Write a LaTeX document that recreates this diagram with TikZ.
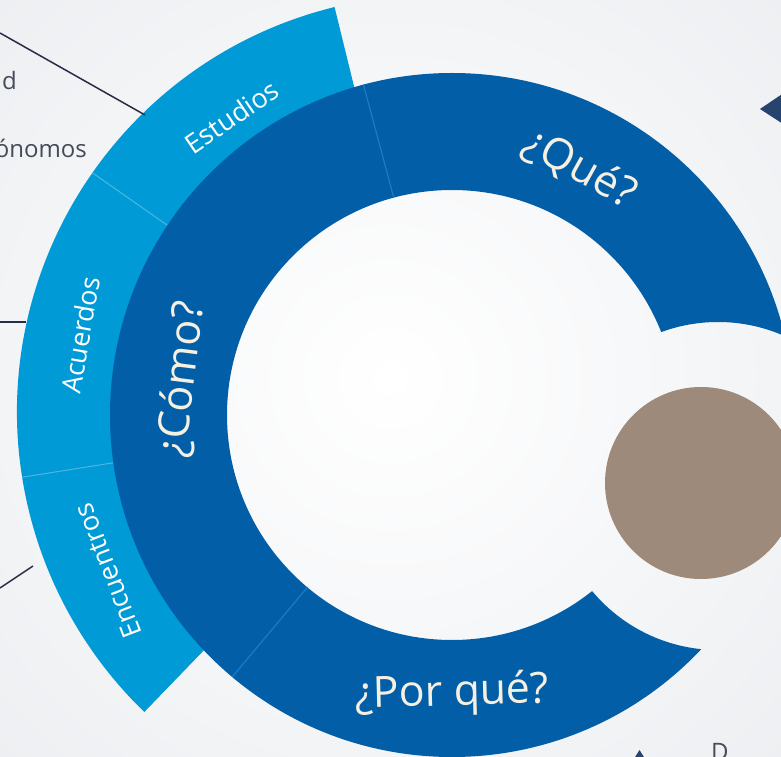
\documentclass[tikz,border=0pt]{standalone}
\usepackage{fontspec}
\setmainfont{Open Sans}
\definecolor{darkblue}{RGB}{2,94,167}
\definecolor{lightblue}{RGB}{0,154,214}
\definecolor{divlight}{RGB}{80,180,226}
\definecolor{divdark}{RGB}{28,122,198}
\definecolor{dotbrown}{RGB}{158,138,122}
\definecolor{cream}{RGB}{245,240,225}
\definecolor{navyline}{RGB}{40,45,70}
\definecolor{graytext}{RGB}{70,75,90}
\definecolor{trinavy}{RGB}{38,68,110}
\definecolor{bgouter}{RGB}{236,238,241}
\begin{document}
\begin{tikzpicture}[x=1pt,y=1pt,
  bigq/.style={text=cream, font=\fontsize{43}{50}\selectfont, inner sep=0pt},
  seglabel/.style={text=white, font=\fontsize{27}{32}\selectfont, inner sep=0pt},
  sidetext/.style={text=graytext, font=\fontsize{24}{28}\selectfont, inner sep=0pt},
  link/.style={draw=navyline, line width=1.5pt},
  divl/.style={draw=divlight, line width=1pt},
  divd/.style={draw=divdark, line width=1.2pt}]
\useasboundingbox (0,0) rectangle (781,756);
% background
\shade[inner color=white, outer color=bgouter] (-200,-200) rectangle (981,956);
% centres
\coordinate (D) at (452,341);
\coordinate (L) at (434,344);
\coordinate (C) at (718,270);
% light blue outer band
\fill[lightblue] ([shift={(103.8:417)}]L) arc[start angle=103.8,end angle=226,radius=417]
  -- ([shift={(226:300)}]L) arc[start angle=226,end angle=103.8,radius=300] -- cycle;
\draw[divl] ([shift={(145:300)}]L) -- ([shift={(145:417)}]L);
\draw[divl] ([shift={(189:300)}]L) -- ([shift={(189:417)}]L);
% dark ring cut by the circle around the dot
\begin{scope}
  \clip (-50,-50) -- (850,-50) -- (850,850) -- (-50,850) -- cycle
        ([shift={(0:164)}]C) arc[start angle=0,end angle=-360,radius=164] -- cycle;
  \fill[darkblue, even odd rule] (D) circle (342) (D) circle (225);
  \draw[divd] ([shift={(105:225)}]D) -- ([shift={(105:342)}]D);
  \draw[divd] ([shift={(230:225)}]D) -- ([shift={(230:342)}]D);
\end{scope}
% brown dot
\node[circle, fill=dotbrown, minimum size=192pt, inner sep=0pt] (dot) at (701,273) {};
% ring labels
\node[bigq, rotate=-29] (que) at ([shift={(62.6:277)}]D) {¿Qué?};
\node[bigq, rotate=83] (como) at ([shift={(172.5:272)}]D) {¿Cómo?};
\node[bigq, rotate=1.5] (porque) at ([shift={(270:279)}]D) {¿Por qué?};
\node[seglabel, rotate=34.4] (estudios) at ([shift={(124.4:358)}]L) {Estudios};
\node[seglabel, rotate=80] (acuerdos) at ([shift={(167.7:362)}]L) {Acuerdos};
\node[seglabel, rotate=111] (encuentros) at ([shift={(206:363)}]L) {Encuentros};
% side texts and leader lines
\node[sidetext, anchor=base east] (t1) at (17,666) {d};
\node[sidetext, anchor=base east] (t2) at (87,598) {ónomos};
\coordinate (l1a) at (0,723);
\coordinate (l1b) at (145,641);
\coordinate (l2a) at (0,434);
\coordinate (l2b) at (26,434);
\coordinate (l3a) at (0,168);
\coordinate (l3b) at (33,190);
\draw[link] (l1a) -- (l1b);
\draw[link] (l2a) -- (l2b);
\draw[link] (l3a) -- (l3b);
% triangles and cut text
\fill[trinavy] (760,647) -- (800,674) -- (800,621) -- cycle;
\fill[trinavy] (639.5,6) -- (647,-6) -- (632,-6) -- cycle;
\node[sidetext, anchor=base west] (t3) at (711,-4) {D};
\end{tikzpicture}
\end{document}
